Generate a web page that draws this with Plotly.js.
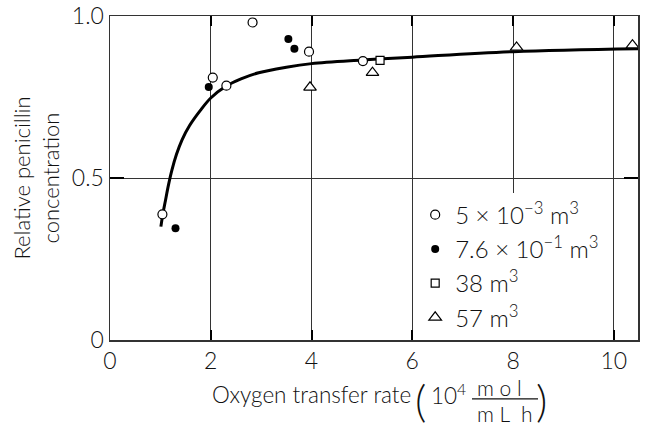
<!DOCTYPE html>
<html>
<head>
<meta charset="utf-8">
<script src="https://cdn.plot.ly/plotly-3.0.1.min.js"></script>
<style>html,body{margin:0;padding:0;background:#fff;}#chart{width:646px;height:426px;}</style>
</head>
<body>
<div id="chart"></div>
<script>
// Series: 5e-3 m3 (open circles)
const s1x = [1.04, 2.04, 2.31, 2.83, 3.95, 5.02];
const s1y = [0.388, 0.81, 0.785, 0.98, 0.89, 0.861];
// Series: 7.6e-1 m3 (filled circles)
const s2x = [1.30, 1.96, 3.54, 3.66];
const s2y = [0.345, 0.781, 0.929, 0.899];
// Series: 38 m3 (squares)
const s3x = [5.36];
const s3y = [0.863];
// Series: 57 m3 (triangles)
const s4x = [3.97, 5.21, 8.07, 10.37];
const s4y = [0.78, 0.825, 0.903, 0.91];
// Fitted curve
const curveX = [1.01, 1.05, 1.10, 1.16, 1.23, 1.32, 1.43, 1.58, 1.79, 2.0, 2.3, 2.6, 2.95, 3.5, 4.0, 5.0, 6.0, 8.0, 10.48];
const curveY = [0.35, 0.39, 0.43, 0.478, 0.525, 0.573, 0.618, 0.662, 0.708, 0.747, 0.783, 0.806, 0.825, 0.842, 0.853, 0.864, 0.873, 0.89, 0.899];

const legendNames = [
  "5 × 10<sup>−3</sup> m<sup>3</sup>",
  "7.6 × 10<sup>−1</sup> m<sup>3</sup>",
  "38 m<sup>3</sup>",
  "57 m<sup>3</sup>"
];
const xTicks = [0, 2, 4, 6, 8, 10];
const xTickText = ["0", "2", "4", "6", "8", "10"];
const yTicks = [0, 0.5, 1.0];
const yTickText = ["0", "0.5", "1.0"];

const FONT = "Lato, Noto Sans, sans-serif";
const W = 300;
const TXT = "#111";

const traces = [
  {x: curveX, y: curveY, mode: "lines", line: {color: "#000", width: 3, shape: "spline", smoothing: 1}, showlegend: false, hoverinfo: "skip"},
  {x: s1x, y: s1y, mode: "markers", name: legendNames[0],
   marker: {symbol: "circle", size: 9, color: "#fff", line: {color: "#000", width: 1.2}}},
  {x: s2x, y: s2y, mode: "markers", name: legendNames[1],
   marker: {symbol: "circle", size: 8, color: "#000", line: {color: "#000", width: 0}}},
  {x: s3x, y: s3y, mode: "markers", name: legendNames[2],
   marker: {symbol: "square", size: 8, color: "#fff", line: {color: "#000", width: 1.2}}},
  {x: s4x, y: s4y, mode: "markers", name: legendNames[3],
   marker: {symbol: "triangle-up", size: 11, color: "#fff", line: {color: "#000", width: 1.2}}}
];

const layout = {
  width: 646, height: 426,
  margin: {l: 110, r: 8, t: 16, b: 86},
  paper_bgcolor: "#fff", plot_bgcolor: "#fff",
  font: {family: FONT, color: TXT, size: 21, weight: W},
  showlegend: true,
  legend: {x: 0.578, y: 0.455, xanchor: "left", yanchor: "top", bgcolor: "#fff", borderwidth: 0,
           font: {size: 24, family: FONT, color: TXT, weight: W}, tracegroupgap: 0},
  xaxis: {range: [0, 10.48], tickvals: xTicks, ticktext: xTickText,
          showgrid: true, gridcolor: "#333", gridwidth: 1, zeroline: false,
          showline: true, linecolor: "#333", linewidth: 1.5, mirror: "ticks",
          ticks: "inside", ticklen: 10, tickwidth: 2, tickcolor: "#000",
          tickfont: {size: 23, family: FONT, color: TXT, weight: W}, fixedrange: true},
  yaxis: {range: [0, 1], tickvals: yTicks, ticktext: yTickText,
          showgrid: true, gridcolor: "#333", gridwidth: 1, zeroline: false,
          showline: true, linecolor: "#333", linewidth: 1.5, mirror: "ticks",
          ticks: "inside", ticklen: 14, tickwidth: 2, tickcolor: "#000",
          tickfont: {size: 23, family: FONT, color: TXT, weight: W}, fixedrange: true,
          title: {text: "Relative penicillin<br>concentration", font: {size: 22, family: FONT, color: TXT, weight: W}, standoff: 6}},
  annotations: [
    {xref: "paper", yref: "paper", x: 0.574, y: -0.167, xanchor: "right", yanchor: "middle",
     text: "Oxygen transfer rate", showarrow: false, font: {size: 22.5, family: FONT, color: TXT, weight: W}},
    {xref: "paper", yref: "paper", x: 0.589, y: -0.186, xanchor: "center", yanchor: "middle",
     text: "(", showarrow: false, font: {size: 44, family: FONT, color: TXT, weight: W}},
    {xref: "paper", yref: "paper", x: 0.818, y: -0.186, xanchor: "center", yanchor: "middle",
     text: ")", showarrow: false, font: {size: 44, family: FONT, color: TXT, weight: W}},
    {xref: "paper", yref: "paper", x: 0.604, y: -0.167, xanchor: "left", yanchor: "middle",
     text: "10<sup>4</sup>", showarrow: false, font: {size: 22.5, family: FONT, color: TXT, weight: W}},
    {xref: "paper", yref: "paper", x: 0.738, y: -0.146, xanchor: "center", yanchor: "middle",
     text: "m o l", showarrow: false, font: {size: 21, family: FONT, color: TXT, weight: W}},
    {xref: "paper", yref: "paper", x: 0.748, y: -0.228, xanchor: "center", yanchor: "middle",
     text: "m L  h", showarrow: false, font: {size: 21, family: FONT, color: TXT, weight: W}}
  ],
  shapes: [
    {type: "line", xref: "paper", yref: "paper", x0: 0.6856, x1: 0.8106, y0: -0.182, y1: -0.182,
     line: {color: TXT, width: 1.3}}
  ]
};

Plotly.newPlot("chart", traces, layout, {staticPlot: true, displayModeBar: false});
</script>
</body>
</html>
